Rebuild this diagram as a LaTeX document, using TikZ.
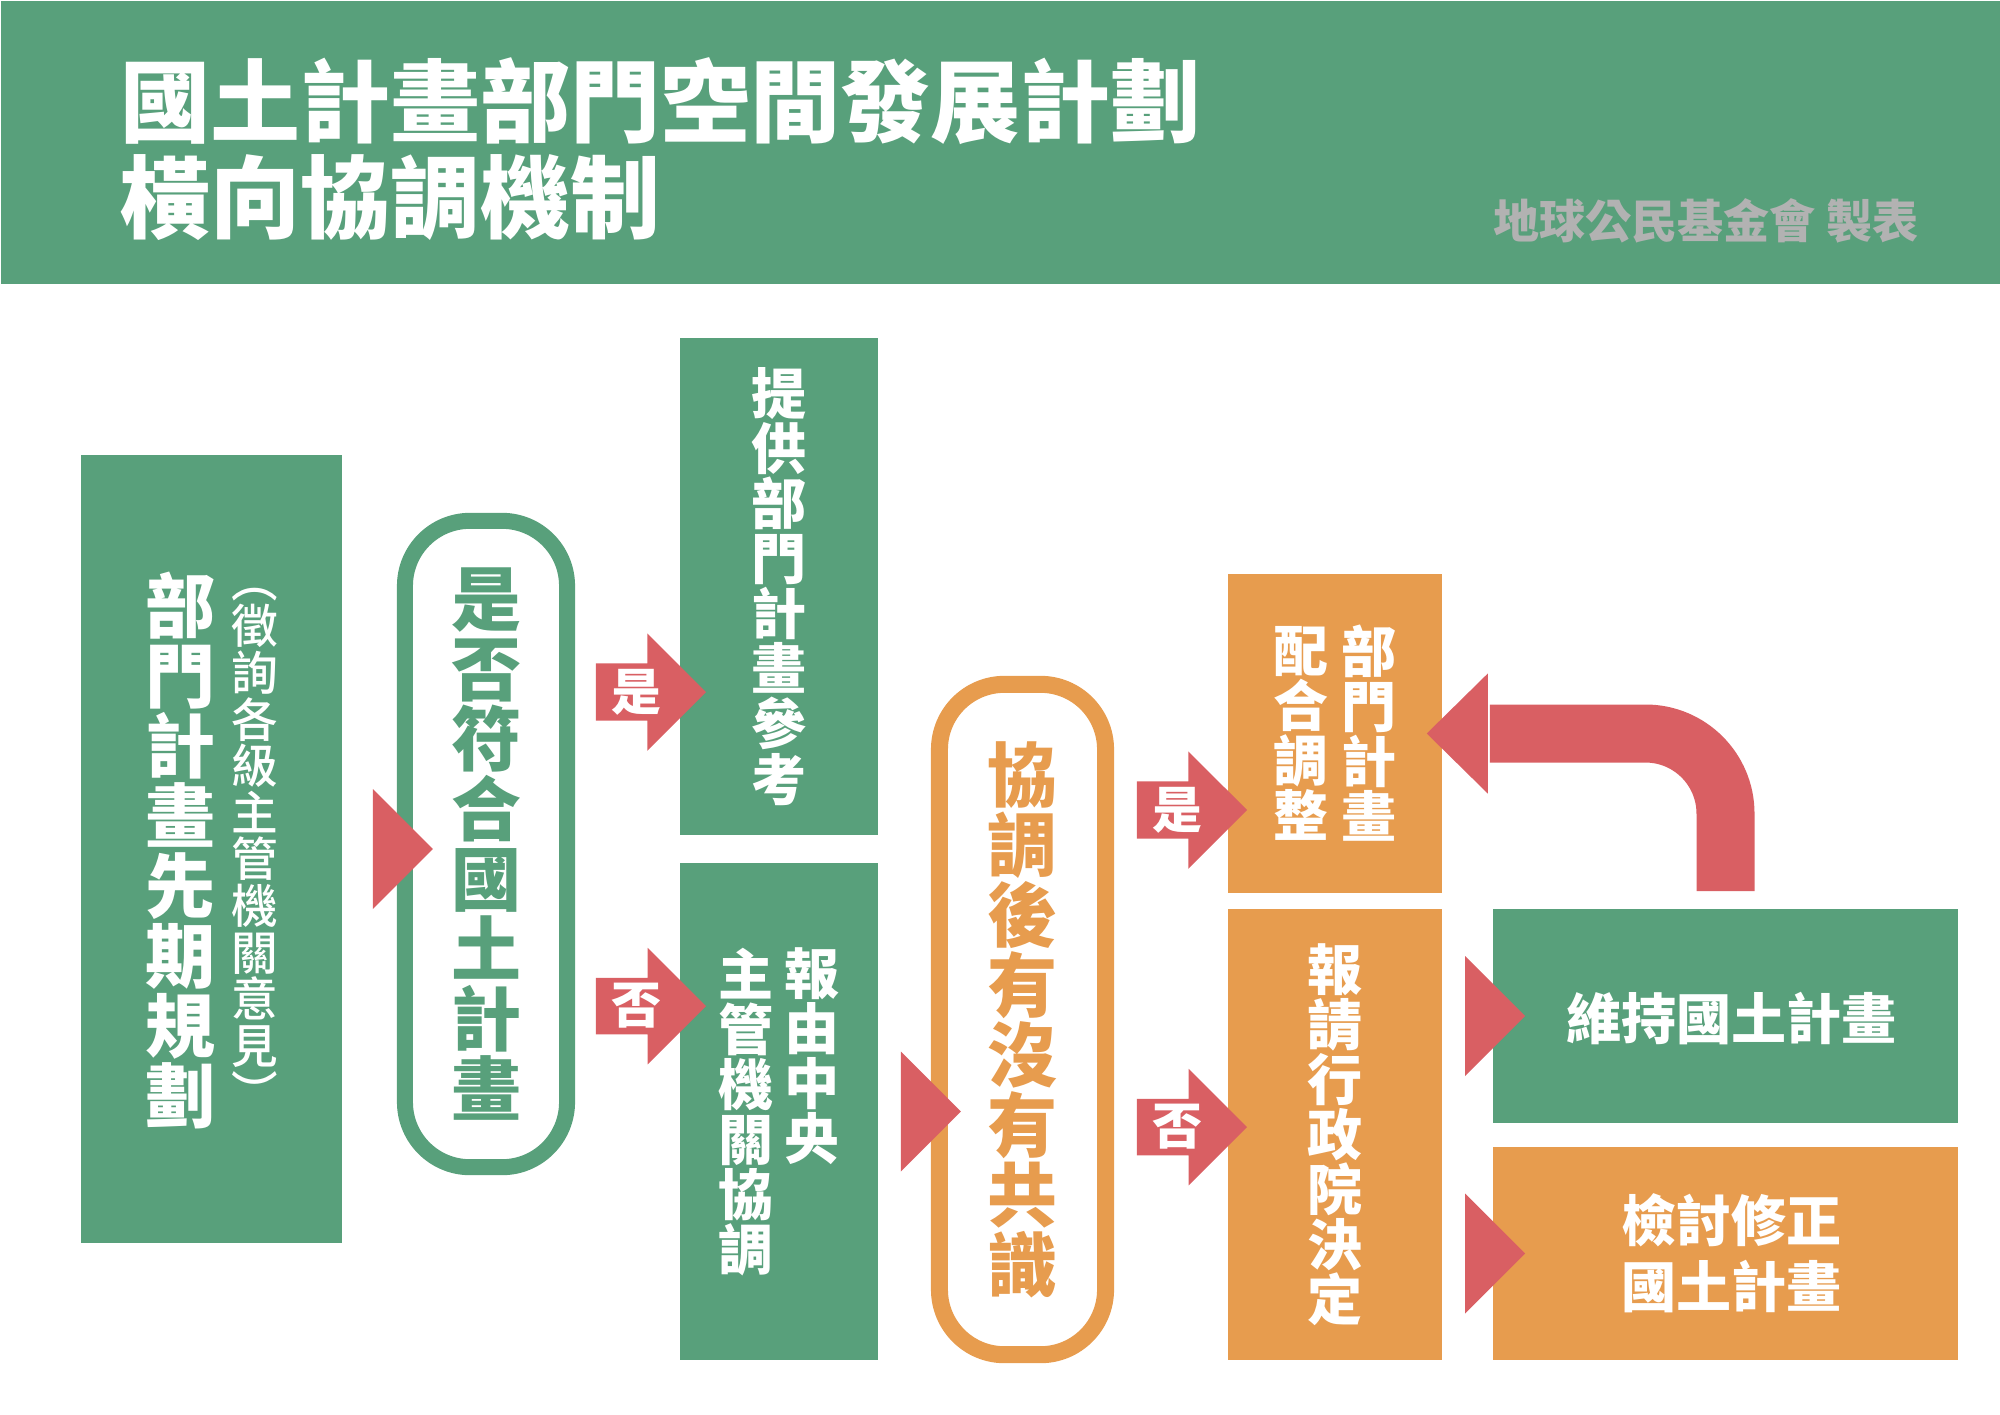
\documentclass[tikz,border=0pt]{standalone}
\usepackage{fontspec}
\IfFontExistsTF{Noto Sans CJK TC Black}
  {\setmainfont{Noto Sans CJK TC}[BoldFont={Noto Sans CJK TC Black}]}
  {\setmainfont{Noto Sans CJK TC}[BoldFont={Noto Sans CJK TC Bold}]}
\IfFontExistsTF{Noto Sans CJK TC Medium}
  {\newfontfamily\notefont{Noto Sans CJK TC Medium}}
  {\newfontfamily\notefont{Noto Sans CJK TC}}
\usepackage{tikz}
\usetikzlibrary{shapes.arrows,positioning}
\definecolor{landgreen}{RGB}{88,160,123}
\definecolor{landorange}{RGB}{231,156,78}
\definecolor{landred}{RGB}{217,95,99}
\definecolor{creditgray}{RGB}{178,178,178}
\tikzset{
  greenbox/.style={
    fill=landgreen,
    text=white,
    inner sep=0pt,
    align=center,
    font=\bfseries\fontsize{15.65pt}{15.65pt}\selectfont
  },
  orangebox/.style={greenbox, fill=landorange},
  greenoval/.style={
    draw=landgreen,
    line width=0.16cm,
    rounded corners=0.65cm,
    fill=white,
    text=landgreen,
    inner sep=0pt,
    align=center,
    font=\bfseries\fontsize{19.9pt}{19.9pt}\selectfont
  },
  orangeoval/.style={greenoval, draw=landorange, text=landorange, line width=0.17cm},
  bigtext/.style={text=white, inner sep=0pt, align=center, font=\bfseries\fontsize{19.9pt}{19.9pt}\selectfont},
  midtext/.style={bigtext, font=\bfseries\fontsize{15.65pt}{15.65pt}\selectfont},
  notetext/.style={bigtext, font=\notefont\fontsize{13.26pt}{13.26pt}\selectfont},
  choice/.style={
    single arrow,
    fill=landred,
    text=white,
    anchor=tip,
    inner xsep=0pt,
    inner ysep=0.05cm,
    minimum height=1.1cm,
    single arrow head extend=0.3cm,
    single arrow tip angle=90,
    font=\bfseries\fontsize{14.2pt}{14.2pt}\selectfont
  },
  pointer/.pic={\fill[landred] (0,-60) -- (60,0) -- (0,60) -- cycle;},
  returnline/.style={draw=landred, line width=0.58cm, rounded corners=0.8cm}
}
\begin{document}
\begin{tikzpicture}[x=0.01cm, y=-0.01cm]
  \useasboundingbox (0,0) rectangle (2000,1414);
  \node[fill=landgreen, anchor=north west, inner sep=0pt, minimum width=20cm, minimum height=2.83cm] (header) at (0,0) {};
  \node[anchor=north west, inner sep=0pt, align=left, text=white, font=\bfseries\fontsize{25.6pt}{27.3pt}\selectfont] (title) at (120,57) {國土計畫部門空間發展計劃\\橫向協調機制};
  \node[anchor=east, inner sep=0pt, text=creditgray, font=\bfseries\fontsize{13.1pt}{13.1pt}\selectfont] (credit) at (1919,221) {地球公民基金會 製表};

  \node[greenbox, minimum width=2.61cm, minimum height=7.88cm] (plan) at (211.5,849) {};
  \node[bigtext] (plantext) at (180.5,850.5) {部\\門\\計\\畫\\先\\期\\規\\劃};
  \node[notetext] (plannote) at (255,849) {︵\\徵\\詢\\各\\級\\主\\管\\機\\關\\意\\見\\︶};

  \node[greenoval, minimum width=1.62cm, minimum height=6.46cm] (check) at (486,844) {是\\否\\符\\合\\國\\土\\計\\畫};
  \node[greenbox, minimum width=1.98cm, minimum height=4.97cm] (refer) at (779,586.5) {提\\供\\部\\門\\計\\畫\\參\\考};
  \node[greenbox, minimum width=1.98cm, minimum height=4.97cm] (central) at (779,1111.5) {};
  \node[midtext, anchor=north] (centralright) at (812.5,947) {報\\由\\中\\央};
  \node[midtext, anchor=north] (centralleft) at (746,947) {主\\管\\機\\關\\協\\調};

  \node[orangeoval, minimum width=1.66cm, minimum height=6.70cm] (consensus) at (1022.5,1019.5) {協\\調\\後\\有\\沒\\有\\共\\識};
  \node[orangebox, minimum width=2.14cm, minimum height=3.19cm] (adjust) at (1335,733.5) {};
  \node[midtext] (adjustright) at (1369,733.5) {部\\門\\計\\畫};
  \node[midtext] (adjustleft) at (1301,733.5) {配\\合\\調\\整};
  \node[orangebox, minimum width=2.14cm, minimum height=4.51cm] (cabinet) at (1335,1134.5) {報\\請\\行\\政\\院\\決\\定};

  \node[greenbox, minimum width=4.65cm, minimum height=2.14cm, text depth=0pt] (keep) at (1725.5,1016) {\hspace*{0.12cm}維持國土計畫};
  \node[orangebox, minimum width=4.65cm, minimum height=2.13cm, font=\bfseries\fontsize{15.65pt}{18.8pt}\selectfont] (revise) at (1725.5,1253.5) {\hspace*{0.12cm}檢討修正\\\hspace*{0.12cm}國土計畫};

  \pic at ([xshift=0.3cm]plan.east) {pointer};
  \pic at ([xshift=0.22cm]central.east) {pointer};
  \pic at ([xshift=-0.27cm]keep.west) {pointer};
  \pic at ([xshift=-0.27cm]revise.west) {pointer};

  \node[choice] (yesrefer) at (707,692) {是};
  \node[choice] (nocentral) at (707,1006) {否};
  \node[choice] (yesadjust) at (1248,810) {是};
  \node[choice] (nocabinet) at (1248,1127) {否};

  \draw[returnline] ([yshift=0.17cm]keep.north) |- ([xshift=0.47cm]adjust.east);
  \fill[landred] ([xshift=0.45cm,yshift=0.6cm]adjust.east) -- ([xshift=-0.16cm]adjust.east) -- ([xshift=0.45cm,yshift=-0.6cm]adjust.east) -- cycle;
\end{tikzpicture}
\end{document}
